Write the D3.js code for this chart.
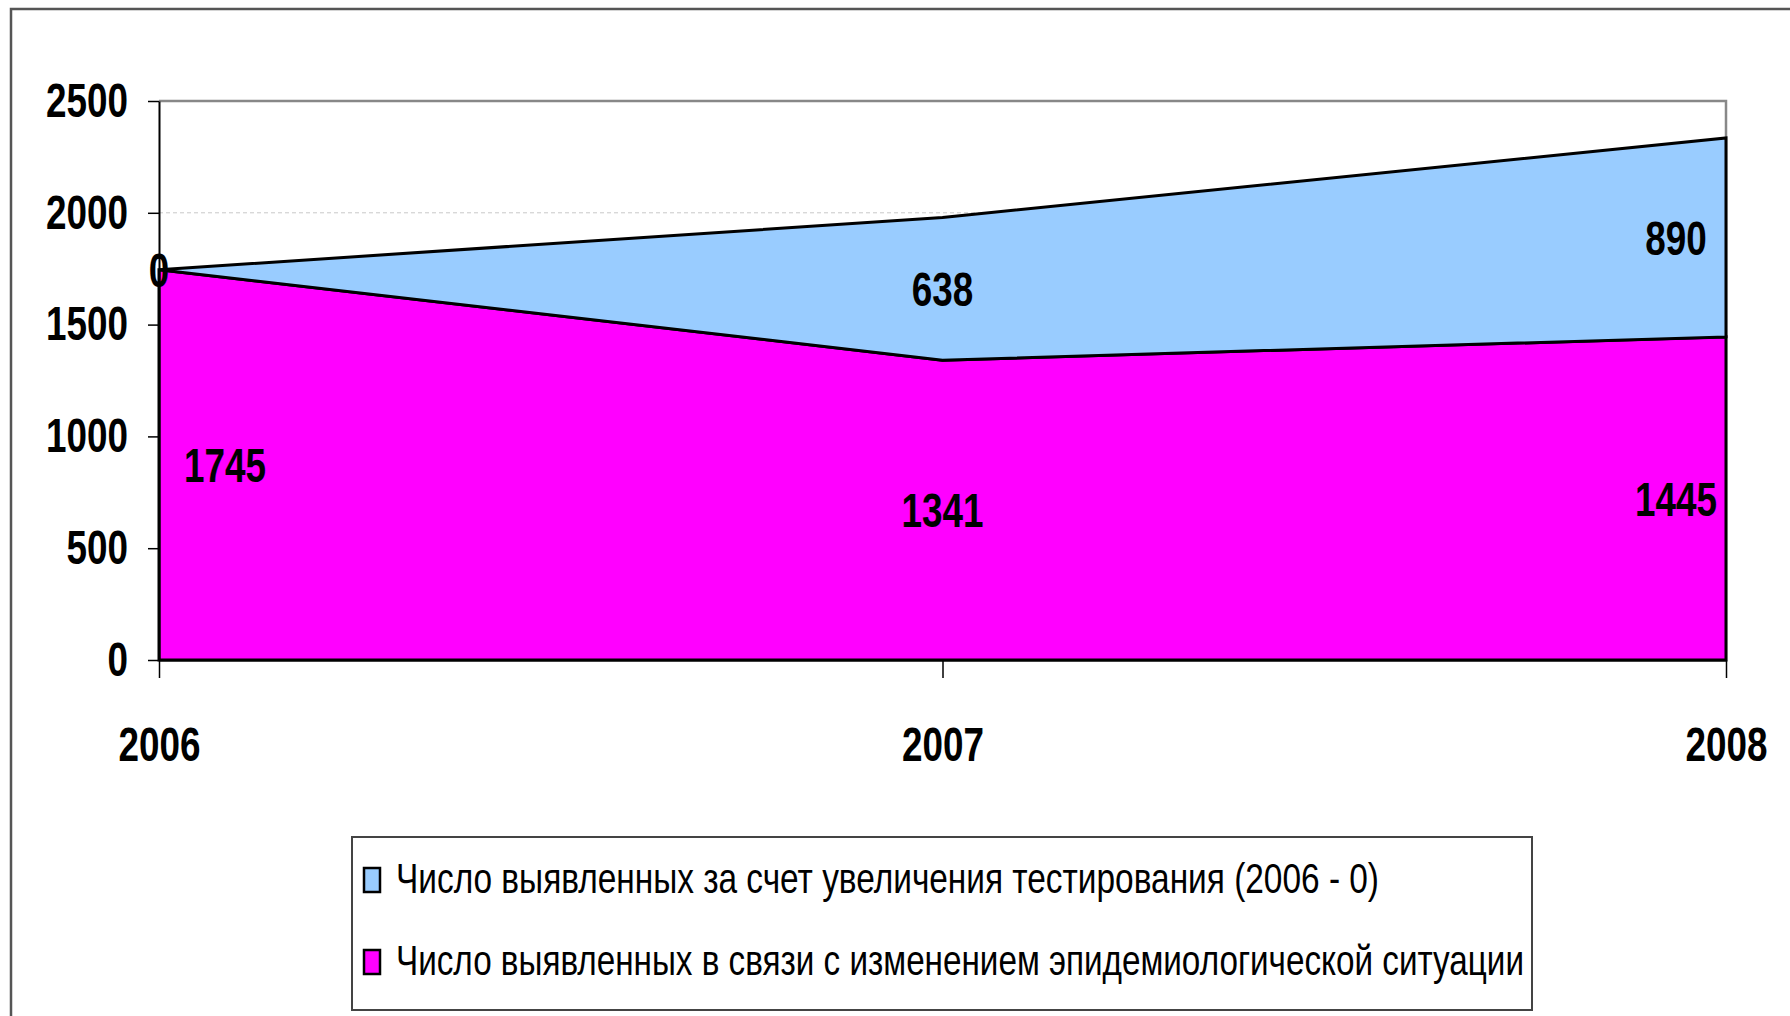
<!DOCTYPE html>
<html>
<head>
<meta charset="utf-8">
<script src="https://cdn.jsdelivr.net/npm/d3@7"></script>
<style>
  body { margin: 0; background: #fff; }
  svg { display: block; }
  .num { font-family: 'Liberation Sans', Arial, sans-serif; font-weight: bold; }
  .legend text { font-family: 'Liberation Sans', Arial, sans-serif; }
</style>
</head>
<body>
<div id="chart-container"></div>
<script>
const years = [2006, 2007, 2008];
// bottom series (magenta) and top series (light blue)
const epidemic = [1745, 1341, 1445];
const testing = [0, 638, 890];
const yTicks = [0, 500, 1000, 1500, 2000, 2500];
const seriesNames = [
  'Число выявленных за счет увеличения тестирования (2006 - 0)',
  'Число выявленных в связи с изменением эпидемиологической ситуации'
];
const seriesColors = ['#99ccff', '#ff00ff'];

const width = 1790,
  height = 1016;

const margin = {top: 101, right: 64, bottom: 356, left: 159};
const gWidth = width - margin.left - margin.right;
const gHeight = height - margin.top - margin.bottom;

// the original uses a narrow bold face; squeeze regular glyphs to that width
const DIGIT_W = 20.5;
const narrow = sel => sel
  .attr('textLength', function() { return this.textContent.length * DIGIT_W; })
  .attr('lengthAdjust', 'spacingAndGlyphs');

const rows = years.map((yr, i) => ({year: yr, epidemic: epidemic[i], testing: testing[i]}));

const xScale = d3.scaleLinear()
  .domain([years[0], years[years.length - 1]])
  .range([0, gWidth]);
const yScale = d3.scaleLinear()
  .domain([0, 2500])
  .range([gHeight, 0]);

const svg0 = d3.select('div#chart-container')
  .append('svg')
  .attr('width', width)
  .attr('height', height);

// outer slide frame
svg0.append('rect')
  .attr('x', 11).attr('y', 9)
  .attr('width', width).attr('height', height)
  .attr('fill', 'none')
  .attr('stroke', '#555')
  .attr('stroke-width', 2.5);

const svg = svg0.append('g')
  .attr('transform', `translate(${margin.left}, ${margin.top})`);

// gridlines (only 2000 really shows)
svg.append('g')
  .selectAll('line')
  .data(yTicks.slice(1, -1))
  .join('line')
  .attr('x1', 0).attr('x2', gWidth)
  .attr('y1', d => yScale(d)).attr('y2', d => yScale(d))
  .attr('stroke', '#c8c8c8')
  .attr('stroke-dasharray', '4,3')
  .attr('stroke-width', 1);

// plot area border top/right
svg.append('path')
  .attr('d', `M0,${yScale(2500)}H${gWidth}V${gHeight}`)
  .attr('fill', 'none')
  .attr('stroke', '#888')
  .attr('stroke-width', 2.5);

const stack = d3.stack().keys(['epidemic', 'testing']);
const layers = stack(rows);

const area = d3.area()
  .x(d => xScale(d.data.year))
  .y0(d => yScale(d[0]))
  .y1(d => yScale(d[1]));

svg.selectAll('path.area')
  .data(layers)
  .join('path')
  .attr('class', 'area')
  .attr('d', area)
  .attr('fill', (_, i) => i === 0 ? seriesColors[1] : seriesColors[0])
  .attr('stroke', '#000')
  .attr('stroke-width', 3)
  .attr('stroke-linejoin', 'miter');

// y axis
const yAxis = svg.append('g')
  .attr('class', 'y axis num')
  .call(d3.axisLeft(yScale).tickValues(yTicks).tickFormat(d3.format('')).tickSize(11).tickSizeOuter(0).tickPadding(20));
// x axis
const xAxis = svg.append('g')
  .attr('class', 'x axis num')
  .attr('transform', `translate(0, ${gHeight})`)
  .call(d3.axisBottom(xScale).tickValues(years).tickFormat(d3.format('')).tickSize(18).tickSizeOuter(0).tickPadding(49));

[yAxis, xAxis].forEach(ax => {
  ax.attr('font-family', null).attr('font-size', null);
  ax.select('.domain').attr('stroke', '#000').attr('stroke-width', 2);
  ax.selectAll('.tick line').attr('stroke', '#000').attr('stroke-width', 1.5);
  ax.selectAll('text')
    .attr('font-size', 48)
    .attr('fill', '#000')
    .call(narrow);
});

// data labels, centered in each band; end labels pulled inside
const labelDx = (i, v) => v === 0 ? 0 : (i === 0 ? 66 : (i === years.length - 1 ? -50 : 0));
layers.forEach((layer, li) => {
  const vals = li === 0 ? epidemic : testing;
  svg.append('g')
    .attr('class', 'num')
    .selectAll('text')
    .data(layer)
    .join('text')
    .attr('x', (d, i) => xScale(d.data.year) + labelDx(i, vals[i]))
    .attr('y', d => yScale((d[0] + d[1]) / 2))
    .attr('dy', '0.36em')
    .attr('text-anchor', 'middle')
    .attr('font-size', 48)
    .text((_, i) => vals[i])
    .call(narrow);
});

// legend
const legend = svg0.append('g').attr('class', 'legend');
legend.append('rect')
  .attr('x', 352).attr('y', 837)
  .attr('width', 1180).attr('height', 173)
  .attr('fill', '#fff')
  .attr('stroke', '#444')
  .attr('stroke-width', 2);

const legendRows = [
  {name: seriesNames[0], color: seriesColors[0], y: 893, len: 983},
  {name: seriesNames[1], color: seriesColors[1], y: 975, len: 1128}
];
const item = legend.selectAll('g.item')
  .data(legendRows)
  .join('g')
  .attr('class', 'item');
item.append('rect')
  .attr('x', 364)
  .attr('y', d => d.y - 25)
  .attr('width', 16)
  .attr('height', 24)
  .attr('fill', d => d.color)
  .attr('stroke', '#000')
  .attr('stroke-width', 2.5);
item.append('text')
  .attr('x', 396)
  .attr('y', d => d.y)
  .attr('font-size', 42)
  .attr('textLength', d => d.len)
  .attr('lengthAdjust', 'spacingAndGlyphs')
  .text(d => d.name);
</script>
</body>
</html>
